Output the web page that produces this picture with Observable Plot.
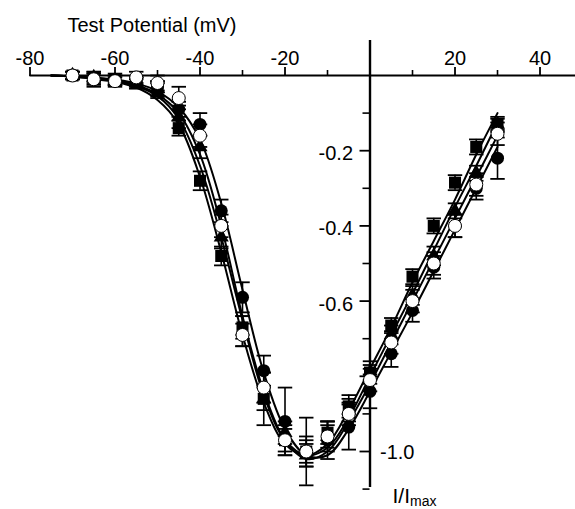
<!DOCTYPE html>
<html>
<head>
<meta charset="utf-8">
<script src="https://cdn.jsdelivr.net/npm/d3@7"></script>
<script src="https://cdn.jsdelivr.net/npm/@observablehq/plot@0.6"></script>
<style>
  body { margin: 0; background: #fff; }
  #chart svg { display: block; }
</style>
</head>
<body>
<div id="chart"></div>
<script>
// ---- data ----
const V = [-70, -65, -60, -55, -50, -45, -40, -35, -30, -25, -20, -15, -10, -5, 0, 5, 10, 15, 20, 25, 30];

const filledCircle = [0, -0.01, -0.01, -0.015, -0.03, -0.09, -0.13, -0.36, -0.59, -0.785, -0.92, -1.0, -0.97, -0.935, -0.84, -0.74, -0.625, -0.51, -0.40, -0.30, -0.22];
const filledCircleErr = [0.01, 0.015, 0.01, 0.01, 0.015, 0.02, 0.03, 0.03, 0.04, 0.04, 0.09, 0.04, 0.05, 0.06, 0.045, 0.035, 0.03, 0.03, 0.03, 0.03, 0.055];

const openCircle = [0, -0.01, -0.015, -0.005, -0.02, -0.06, -0.16, -0.40, -0.69, -0.83, -0.97, -1.0, -0.96, -0.90, -0.81, -0.71, -0.60, -0.50, -0.40, -0.29, -0.155];
const openCircleErr = [0.01, 0.02, 0.01, 0.015, 0.02, 0.03, 0.03, 0.03, 0.03, 0.04, 0.04, 0.09, 0.04, 0.03, 0.03, 0.03, 0.03, 0.03, 0.03, 0.03, 0.03];

const square = [0, -0.005, -0.01, -0.02, -0.04, -0.14, -0.28, -0.48, -0.67, -0.86, -0.97, -1.0, -0.95, -0.88, -0.79, -0.665, -0.535, -0.40, -0.285, -0.19, -0.13];
const squareErr = [0.01, 0.01, 0.015, 0.01, 0.02, 0.02, 0.025, 0.025, 0.03, 0.03, 0.03, 0.03, 0.03, 0.03, 0.02, 0.02, 0.02, 0.02, 0.02, 0.02, 0.015];

const triangle = [0, -0.005, -0.015, -0.02, -0.035, -0.11, -0.19, -0.43, -0.68, -0.86, -0.95, -1.01, -0.96, -0.89, -0.79, -0.69, -0.585, -0.48, -0.36, -0.26, -0.13];
const triangleErr = [0.01, 0.015, 0.015, 0.015, 0.02, 0.03, 0.03, 0.03, 0.04, 0.07, 0.03, 0.03, 0.03, 0.03, 0.03, 0.025, 0.025, 0.025, 0.02, 0.02, 0.02];

// fitted curves
const Vfit = [-75, -70, -65, -60, -55, -50, -45, -40, -35, -30, -25, -20, -15, -10, -5, 0, 5, 10, 15, 20, 25, 30];
const fitFilledCircle = [0, -0.002, -0.005, -0.011, -0.021, -0.042, -0.085, -0.17, -0.34, -0.57, -0.79, -0.94, -1.01, -1.01, -0.94, -0.84, -0.735, -0.63, -0.52, -0.41, -0.30, -0.19];
const fitOpenCircle = [0, -0.002, -0.006, -0.013, -0.025, -0.05, -0.10, -0.21, -0.40, -0.64, -0.84, -0.97, -1.02, -1.0, -0.92, -0.82, -0.71, -0.60, -0.49, -0.38, -0.27, -0.16];
const fitSquare = [0, -0.003, -0.009, -0.017, -0.032, -0.065, -0.13, -0.27, -0.47, -0.69, -0.87, -0.98, -1.01, -0.98, -0.89, -0.78, -0.67, -0.55, -0.44, -0.33, -0.21, -0.10];
const fitTriangle = [0, -0.003, -0.008, -0.015, -0.028, -0.055, -0.115, -0.24, -0.43, -0.65, -0.85, -0.97, -1.01, -0.99, -0.91, -0.80, -0.69, -0.58, -0.465, -0.35, -0.24, -0.125];

// axis ticks and labels
const xMajorTicks = [-80, -60, -40, -20, 0, 20, 40];
const xTickLabels = ["-80", "-60", "-40", "-20", "", "20", "40"];
const xMinorTicks = [-70, -50, -30, -10, 10, 30];
const yMajorTicks = [-0.2, -0.4, -0.6, -0.8, -1.0];
const yMinorTicks = [-0.1, -0.3, -0.5, -0.7, -0.9, -1.1];
const yLabelsLeft = [-0.2, -0.4, -0.6];
const yLabelsLeftText = ["-0.2", "-0.4", "-0.6"];
const yLabelsRight = [-1.0];
const yLabelsRightText = ["-1.0"];
const xTitle = "Test Potential (mV)";

// ---- build tables ----
function rows(name, ys, errs) {
  return V.map((v, i) => ({s: name, V: v, I: ys[i], e: errs[i]}));
}
const points = [
  ...rows("sq", square, squareErr),
  ...rows("tri", triangle, triangleErr),
  ...rows("fc", filledCircle, filledCircleErr),
  ...rows("oc", openCircle, openCircleErr)
];
const fits = [
  ...Vfit.map((v, i) => ({s: "fc", V: v, I: fitFilledCircle[i]})),
  ...Vfit.map((v, i) => ({s: "oc", V: v, I: fitOpenCircle[i]})),
  ...Vfit.map((v, i) => ({s: "sq", V: v, I: fitSquare[i]})),
  ...Vfit.map((v, i) => ({s: "tri", V: v, I: fitTriangle[i]}))
];
const capHalf = 1.7;   // mV, half width of error-bar caps
const yTickLen = 2.35; // mV, y-axis major tick length
const yMinorLen = 1.65;

const font = "'Liberation Sans', Arial, sans-serif";

const plot = Plot.plot({
  width: 575,
  height: 509,
  marginLeft: 29.5,
  marginRight: 0,
  marginTop: 75,
  marginBottom: 20.4,
  style: {fontFamily: font, color: "black", background: "white", overflow: "visible"},
  x: {domain: [-80, 48.35], label: null},
  y: {domain: [-1.1, 0], axis: null, label: null},
  marks: [
    // axes lines
    Plot.ruleY([0], {stroke: "black", strokeWidth: 2.2}),
    Plot.ruleX([0], {y1: 0.093, y2: -1.096, stroke: "black", strokeWidth: 2.4}),
    Plot.axisX({anchor: "top", ticks: xMajorTicks, tickSize: 9, tickPadding: 2, label: null,
      tickFormat: (d) => xTickLabels[xMajorTicks.indexOf(d)], fontSize: 20, strokeWidth: 1.8}),
    Plot.axisX({anchor: "top", ticks: xMinorTicks, tickSize: 6, tickFormat: () => "", label: null, strokeWidth: 1.6}),
    Plot.ruleY(yMajorTicks, {x1: -yTickLen, x2: 0, stroke: "black", strokeWidth: 1.8}),
    Plot.ruleY(yMinorTicks, {x1: -yMinorLen, x2: 0, stroke: "black", strokeWidth: 1.6}),
    Plot.text(yLabelsLeft, {x: 0, y: d => d, text: (d, i) => yLabelsLeftText[i], textAnchor: "end", dx: -17, dy: 3, fontSize: 20}),
    Plot.text(yLabelsRight, {x: 0, y: d => d, text: (d, i) => yLabelsRightText[i], textAnchor: "start", dx: 10, dy: 1, fontSize: 20}),
    Plot.text([xTitle], {frameAnchor: "top-left", dx: 37.5, dy: -58, textAnchor: "start", fontSize: 20, letterSpacing: 1}),
    // fitted curves
    Plot.line(fits, {x: "V", y: "I", z: "s", curve: "catmull-rom", stroke: "black", strokeWidth: 2}),
    // error bars
    Plot.ruleX(points, {x: "V", y1: d => d.I - d.e, y2: d => d.I + d.e, stroke: "black", strokeWidth: 1.6}),
    Plot.link(points, {x1: d => d.V - capHalf, x2: d => d.V + capHalf, y1: d => d.I - d.e, y2: d => d.I - d.e, stroke: "black", strokeWidth: 1.8}),
    Plot.link(points, {x1: d => d.V - capHalf, x2: d => d.V + capHalf, y1: d => d.I + d.e, y2: d => d.I + d.e, stroke: "black", strokeWidth: 1.8}),
    // markers
    Plot.dot(points.filter(d => d.s === "sq"), {x: "V", y: "I", symbol: "square", r: 6.8, fill: "black"}),
    Plot.dot(points.filter(d => d.s === "tri"), {x: "V", y: "I", symbol: "triangle", r: 5.6, fill: "black"}),
    Plot.dot(points.filter(d => d.s === "fc"), {x: "V", y: "I", symbol: "circle", r: 6.5, fill: "black"}),
    Plot.dot(points.filter(d => d.s === "oc"), {x: "V", y: "I", symbol: "circle", r: 6.5, fill: "white", stroke: "black", strokeWidth: 1})
  ]
});

// y-axis title with subscript
const svg = d3.select(plot);
const xs = plot.scale("x"), ys = plot.scale("y");
const t = svg.append("text")
  .attr("x", xs.apply(0) + 23)
  .attr("y", ys.apply(-1.1) + 14.5)
  .attr("text-anchor", "start")
  .attr("font-family", font)
  .attr("font-size", 21)
  .attr("fill", "black");
t.append("tspan").text("I/I");
t.append("tspan").attr("font-size", 14).attr("dy", 3).text("max");

document.getElementById("chart").appendChild(plot);
</script>
</body>
</html>
